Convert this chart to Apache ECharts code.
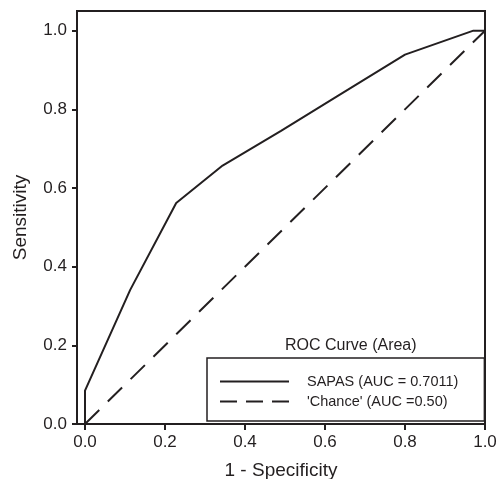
<!DOCTYPE html>
<html>
<head>
<meta charset="utf-8">
<script src="https://cdn.jsdelivr.net/npm/echarts@6/dist/echarts.min.js"></script>
<style>
html,body{margin:0;padding:0;background:#fff;}
#c{width:498px;height:479px;}
</style>
</head>
<body>
<div id="c"></div>
<script>
// ROC curve data (1 - specificity, sensitivity)
var sapasX = [0, 0, 0.113, 0.228, 0.344, 0.49, 0.63, 0.80, 0.971, 1.0];
var sapasY = [0, 0.085, 0.341, 0.562, 0.657, 0.745, 0.833, 0.939, 1.0, 1.0];
var chanceX = [0, 1];
var chanceY = [0, 1];
var tickValues = [0, 0.2, 0.4, 0.6, 0.8, 1.0];
var seriesNames = ["SAPAS (AUC = 0.7011)", "'Chance' (AUC =0.50)"];
var legendTitle = "ROC Curve (Area)";
var xTitle = "1 - Specificity";
var yTitle = "Sensitivity";

var ink = '#231f20';
var font = '"Liberation Sans", Arial, Helvetica, sans-serif';

function pairs(xs, ys) {
  return xs.map(function (x, i) { return [x, ys[i]]; });
}

var chart = echarts.init(document.getElementById('c'), null, {renderer: 'canvas'});
chart.setOption({
  animation: false,
  backgroundColor: '#fff',
  textStyle: {fontFamily: font, color: ink},
  title: {
    text: legendTitle,
    left: 285, top: 338, padding: 0,
    textStyle: {fontFamily: font, fontSize: 16, fontWeight: 'normal', color: ink}
  },
  grid: {
    left: 77, right: 13, top: 11, bottom: 55,
    outerBoundsMode: 'none',
    containLabel: false,
    show: true, borderColor: ink, borderWidth: 2, backgroundColor: 'transparent'
  },
  legend: {
    show: true,
    orient: 'vertical',
    left: 207, top: 358,
    padding: [16, 26, 12, 12],
    itemWidth: 69, itemHeight: 14, itemGap: 5,
    borderColor: ink, borderWidth: 1.5,
    backgroundColor: '#fff',
    itemStyle: {opacity: 0, borderWidth: 0},
    formatter: function (name) { return '{p|}' + name; },
    textStyle: {
      fontFamily: font, fontSize: 14.5, color: ink,
      rich: {p: {width: 13}}
    },
    data: [
      {name: seriesNames[0]},
      {name: seriesNames[1], lineStyle: {type: [17, 9]}}
    ]
  },
  xAxis: {
    type: 'value', min: -0.02, max: 1.0,
    name: xTitle, nameLocation: 'middle', nameGap: 37,
    nameTextStyle: {fontFamily: font, fontSize: 19, color: ink},
    axisLine: {show: true, onZero: false, lineStyle: {color: ink, width: 2}},
    axisTick: {show: true, length: 6, customValues: tickValues, lineStyle: {color: ink, width: 2}},
    axisLabel: {customValues: tickValues, margin: 10, fontFamily: font, fontSize: 17, color: ink,
      formatter: function (v) { return v.toFixed(1); }},
    splitLine: {show: false}
  },
  yAxis: {
    type: 'value', min: 0, max: 1.05,
    name: yTitle, nameLocation: 'middle', nameGap: 47,
    nameTextStyle: {fontFamily: font, fontSize: 19, color: ink},
    axisLine: {show: true, onZero: false, lineStyle: {color: ink, width: 2}},
    axisTick: {show: true, length: 5, customValues: tickValues, lineStyle: {color: ink, width: 2}},
    axisLabel: {customValues: tickValues, margin: 10, fontFamily: font, fontSize: 17, color: ink,
      formatter: function (v) { return v.toFixed(1); }},
    splitLine: {show: false}
  },
  series: [
    {
      name: seriesNames[0], type: 'line', data: pairs(sapasX, sapasY),
      symbol: 'none', clip: false,
      lineStyle: {color: ink, width: 2, type: 'solid'},
      itemStyle: {color: ink}
    },
    {
      name: seriesNames[1], type: 'line', data: pairs(chanceX, chanceY),
      symbol: 'none', clip: false,
      lineStyle: {color: ink, width: 2, type: [20, 12]},
      itemStyle: {color: ink}
    }
  ]
});
</script>
</body>
</html>
